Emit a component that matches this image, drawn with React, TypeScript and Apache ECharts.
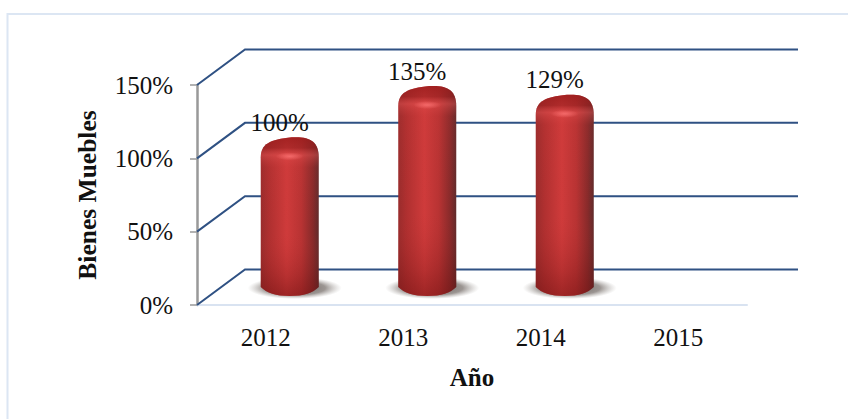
import React, { useEffect, useRef } from "react";
import * as echarts from "echarts";

const years = ["2012", "2013", "2014", "2015"];
const percentages: (number | null)[] = [100, 135, 129, null];
const percentTicks = [0, 50, 100, 150];

const SERIF = '"Liberation Serif", "Times New Roman", serif';
const GRID = { left: 197, top: 85, width: 550, height: 220 };
// Pseudo-3D depth of the chart floor, in pixels.
const BACK_DX = 48;
const BACK_DY = 35.5;
const BAR_DX = 24;
const BAR_HALF = 29;

const { LinearGradient, RadialGradient } = echarts.graphic;

function renderWall(params: any, api: any) {
  const y = api.coord([0, api.value(1)])[1];
  const x0 = params.coordSys.x;
  return {
    type: "polyline",
    silent: true,
    shape: {
      points: [
        [x0, y],
        [x0 + BACK_DX, y - BACK_DY],
        [x0 + BACK_DX + 553, y - BACK_DY],
      ],
    },
    style: { fill: "none", stroke: "#2f5183", lineWidth: 2 },
  };
}

function renderCylinder(_params: any, api: any) {
  const value = api.value(1);
  if (value == null || Number.isNaN(value)) return null;
  const [cx0, yTop] = api.coord([api.value(0), value]);
  const yZero = api.coord([api.value(0), 0])[1];
  const cx = cx0 + BAR_DX;
  const top = yTop - 21;
  const base = yZero - 18;
  const l = cx - BAR_HALF;
  const r = cx + BAR_HALF;
  const height = base + 9 - top;
  const shoulder = (18 / height).toFixed(3);
  const silhouette =
    `M${l} ${base}L${l} ${top + 20}` +
    `C${l} ${top + 7} ${cx - 20} ${top + 2} ${cx + 2} ${top}` +
    `C${cx + 20} ${top - 1} ${r} ${top + 4} ${r} ${top + 20}` +
    `L${r} ${base}` +
    `C${r - 6} ${base + 6} ${cx + 14} ${base + 9} ${cx} ${base + 9}` +
    `C${cx - 14} ${base + 9} ${l + 6} ${base + 6} ${l} ${base}Z`;
  const shape = { pathData: silhouette };
  return {
    type: "group",
    silent: true,
    children: [
      {
        type: "ellipse",
        shape: { cx: cx + 5, cy: base + 1, rx: 47, ry: 11 },
        style: {
          fill: new RadialGradient(0.5, 0.5, 0.5, [
            { offset: 0, color: "rgba(70,60,55,0.85)" },
            { offset: 0.65, color: "rgba(90,80,75,0.6)" },
            { offset: 1, color: "rgba(150,145,140,0)" },
          ]),
        },
      },
      {
        type: "path",
        shape,
        style: {
          fill: new LinearGradient(0, 0, 1, 0, [
            { offset: 0, color: "#992c2c" },
            { offset: 0.15, color: "#b03030" },
            { offset: 0.45, color: "#cf3b3b" },
            { offset: 0.7, color: "#b83333" },
            { offset: 0.9, color: "#862a2a" },
            { offset: 1, color: "#5f2b2b" },
          ]),
        },
      },
      {
        type: "path",
        shape,
        style: {
          fill: new LinearGradient(0, 0, 0, 1, [
            { offset: 0, color: "rgba(150,25,25,0.75)" },
            { offset: +shoulder * 0.6, color: "rgba(150,30,30,0.55)" },
            { offset: +shoulder, color: "rgba(240,90,90,0.4)" },
            { offset: +shoulder * 1.7, color: "rgba(210,60,60,0.1)" },
            { offset: 0.6, color: "rgba(190,50,50,0)" },
            { offset: 0.88, color: "rgba(110,15,15,0.25)" },
            { offset: 1, color: "rgba(110,15,15,0.5)" },
          ]),
        },
      },
      {
        type: "ellipse",
        shape: { cx: cx, cy: top + 19, rx: 14, ry: 4 },
        style: {
          fill: new RadialGradient(0.5, 0.5, 0.5, [
            { offset: 0, color: "rgba(255,120,120,0.7)" },
            { offset: 1, color: "rgba(255,120,120,0)" },
          ]),
        },
      },
      {
        type: "text",
        x: cx - 10,
        y: top - 15,
        style: {
          text: `${value}%`,
          fill: "#111111",
          font: `25px ${SERIF}`,
          align: "center",
          verticalAlign: "middle",
        },
      },
    ],
  };
}

export default function App() {
  const host = useRef<HTMLDivElement>(null);

  useEffect(() => {
    const chart = echarts.init(host.current!, null, { renderer: "svg" });
    chart.setOption({
      animation: false,
      backgroundColor: "#ffffff",
      graphic: [
        {
          type: "rect",
          silent: true,
          shape: { x: 7.5, y: 14, width: 900, height: 500 },
          style: { fill: "none", stroke: "#dce6f3", lineWidth: 2 },
        },
      ],
      grid: { ...GRID, containLabel: false },
      xAxis: {
        type: "category",
        data: years,
        name: "Año",
        nameLocation: "middle",
        nameGap: 60,
        nameTextStyle: { fontFamily: SERIF, fontSize: 25, fontWeight: "bold", color: "#111111" },
        axisLine: { lineStyle: { color: "#d9e3f1", width: 2 } },
        axisTick: { show: false },
        axisLabel: { fontFamily: SERIF, fontSize: 25, color: "#111111", margin: 20 },
      },
      yAxis: {
        type: "value",
        min: 0,
        max: 150,
        interval: 50,
        name: "Bienes Muebles",
        nameLocation: "middle",
        nameGap: 97,
        nameTextStyle: { fontFamily: SERIF, fontSize: 25.5, fontWeight: "bold", color: "#111111" },
        splitLine: { show: false },
        axisLine: { show: true, lineStyle: { color: "#999999", width: 2.5 } },
        axisTick: { show: true, length: 7, lineStyle: { color: "#999999", width: 1.5 } },
        axisLabel: { fontFamily: SERIF, fontSize: 25, color: "#111111", margin: 24, formatter: "{value}%" },
      },
      series: [
        {
          type: "custom",
          name: "Pared",
          coordinateSystem: "cartesian2d",
          data: percentTicks.map((tick) => [0, tick]),
          renderItem: renderWall,
          z: 1,
        },
        {
          type: "custom",
          name: "Bienes Muebles",
          coordinateSystem: "cartesian2d",
          data: percentages.map((value, i) => [i, value]),
          renderItem: renderCylinder,
          z: 2,
        },
      ],
    });
    return () => chart.dispose();
  }, []);

  return (
    <div
      ref={host}
      style={{ position: "fixed", left: 0, top: 0, width: 848, height: 419 }}
    />
  );
}
